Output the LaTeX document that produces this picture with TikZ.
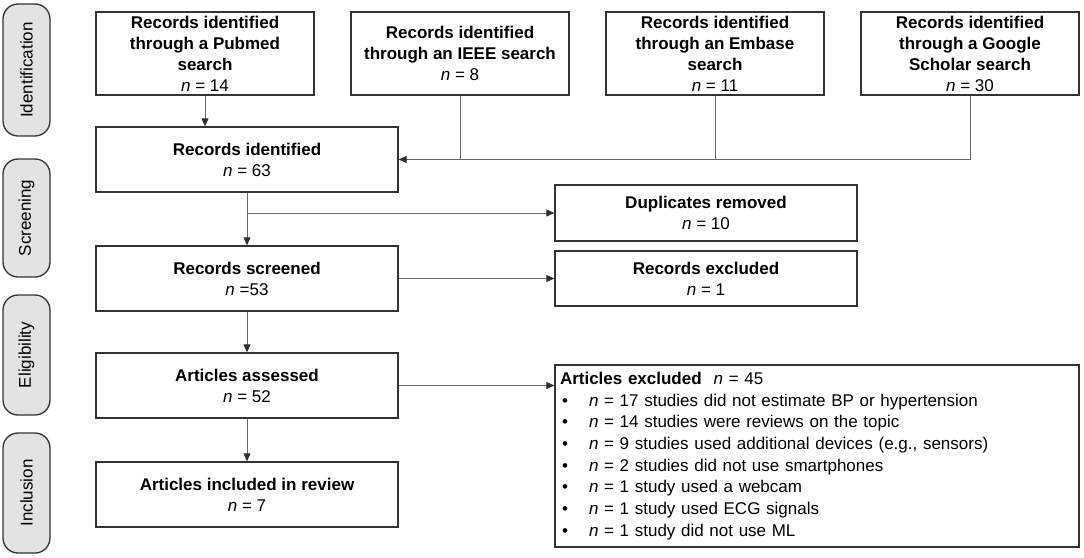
\documentclass[tikz,border=0pt]{standalone}
\usepackage{fontspec}
\setmainfont{Liberation Sans}
\usetikzlibrary{arrows.meta}
\definecolor{boxline}{HTML}{333333}
\definecolor{connline}{HTML}{666666}
\definecolor{tipcol}{HTML}{2E2E2E}
\definecolor{labfill}{HTML}{E3E3E3}
\newcommand{\cnt}[1]{{\normalfont\textit{n} = #1}}
\newcommand{\blt}{\makebox[29pt][l]{\hspace{2pt}•}}
\begin{document}
\begin{tikzpicture}[x=1pt,y=-1pt,
  box/.style={draw=boxline, line width=1.3pt, inner sep=0pt, align=center,
    font=\fontsize{17}{21}\selectfont\bfseries},
  lab/.style={draw=boxline, line width=1.3pt, fill=labfill, rounded corners=15pt,
    inner sep=0pt, rotate=90, minimum height=47pt, font=\fontsize{17}{21}\selectfont},
  conn/.style={draw=connline, line width=1pt},
  arr/.style={conn, -{Triangle[length=8pt,width=7pt,color=tipcol]}}]
\useasboundingbox (0,0) rectangle (1084,557);

% stage labels
\node[lab, minimum width=132pt] (lid) at (26.5,70) {Identification};
\node[lab, minimum width=118pt] (lsc) at (26.5,218) {Screening};
\node[lab, minimum width=120pt] (lel) at (26.5,355) {Eligibility};
\node[lab, minimum width=120pt] (lin) at (26.5,493) {Inclusion};

% top sources
\node[box, minimum width=218pt, minimum height=83pt] (pub) at (205,53.5)
  {Records identified\\through a Pubmed\\search\\\cnt{14}};
\node[box, minimum width=218pt, minimum height=83pt] (ieee) at (460,53.5)
  {Records identified\\through an IEEE search\\\cnt{8}};
\node[box, minimum width=218pt, minimum height=83pt] (emb) at (715,53.5)
  {Records identified\\through an Embase\\search\\\cnt{11}};
\node[box, minimum width=218pt, minimum height=83pt] (goo) at (970,53.5)
  {Records identified\\through a Google\\Scholar search\\\cnt{30}};

% main column
\node[box, minimum width=302pt, minimum height=65pt] (ident) at (247,159.5)
  {Records identified\\\cnt{63}};
\node[box, minimum width=302pt, minimum height=65pt] (scr) at (247,278.5)
  {Records screened\\{\normalfont\textit{n} =53}};
\node[box, minimum width=302pt, minimum height=65pt] (ass) at (247,385.5)
  {Articles assessed\\\cnt{52}};
\node[box, minimum width=302pt, minimum height=65pt] (inc) at (247,494.5)
  {Articles included in review\\\cnt{7}};

% right column
\node[box, minimum width=302pt, minimum height=56pt] (dup) at (706,213)
  {Duplicates removed\\\cnt{10}};
\node[box, minimum width=302pt, minimum height=55pt] (rexc) at (706,278.5)
  {Records excluded\\\cnt{1}};
\node[box, inner xsep=5pt, text width=514pt, minimum height=182pt, align=left,
  font=\fontsize{17}{21.7}\selectfont] (exc) at (817,456)
  {\textbf{Articles excluded}\hspace{12pt}\textit{n} = 45\\
   \blt\textit{n} = 17 studies did not estimate BP or hypertension\\
   \blt\textit{n} = 14 studies were reviews on the topic\\
   \blt\textit{n} = 9 studies used additional devices (e.g., sensors)\\
   \blt\textit{n} = 2 studies did not use smartphones\\
   \blt\textit{n} = 1 study used a webcam\\
   \blt\textit{n} = 1 study used ECG signals\\
   \blt\textit{n} = 1 study did not use ML};

% connectors
\draw[arr] (pub.south) -- (pub.south |- ident.north);
\draw[conn] (ieee.south) -- (ieee.south |- ident.east);
\draw[conn] (emb.south) -- (emb.south |- ident.east);
\draw[arr] (goo.south) |- (ident.east);
\draw[arr] (ident.south) -- (scr.north);
\coordinate (br) at (ident.south |- dup.west);
\draw[arr] (br) -- (dup.west);
\draw[arr] (scr.east) -- (rexc.west);
\draw[arr] (scr.south) -- (ass.north);
\draw[arr] (ass.east) -- (ass.east -| exc.west);
\draw[arr] (ass.south) -- (inc.north);
\end{tikzpicture}
\end{document}
